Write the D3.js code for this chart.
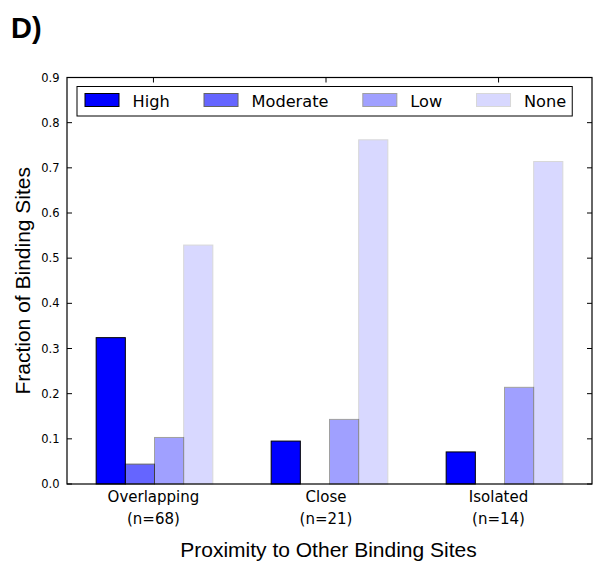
<!DOCTYPE html>
<meta charset="utf-8">
<style>
  body { margin: 0; background: white; }
  .tick-y { font: 11.5px "DejaVu Sans"; fill: #000; }
  .tick-x { font: 15px "DejaVu Sans"; fill: #000; }
  .leg { font: 16.2px "DejaVu Sans"; fill: #000; }
  .label { font: 21px "Liberation Sans", Arial, sans-serif; fill: #000; }
  .panel { font: bold 29px "Liberation Sans", Arial, sans-serif; fill: #000; }
</style>
<body>
</body>
<script src="https://cdn.jsdelivr.net/npm/d3@7"></script>
<script>
  const groups = ['Overlapping', 'Close', 'Isolated'];
  const counts = [68, 21, 14];
  const levels = ['High', 'Moderate', 'Low', 'None'];
  const alphas = [1, 0.6, 0.37, 0.15];
  const high = [0.324, 0.095, 0.071];
  const moderate = [0.044, 0, 0];
  const low = [0.103, 0.143, 0.214];
  const none = [0.529, 0.762, 0.714];
  const series = [high, moderate, low, none];
  const yTicks = [0, 0.1, 0.2, 0.3, 0.4, 0.5, 0.6, 0.7, 0.8, 0.9];
  const xTickPos = [0.494, 1.48, 2.466];

  const W = 597, H = 566;
  const l = 67, r = 592, t = 77.5, b = 484;
  const barW = 1 / 6;

  const svg = d3.select('body').append('svg')
    .attr('width', W).attr('height', H);

  const x = d3.scaleLinear().domain([0, 3]).range([l, r]);
  const y = d3.scaleLinear().domain([0, 0.9]).range([b, t]);

  // bars
  const bars = [];
  series.forEach((vals, j) => vals.forEach((v, i) => {
    if (v > 0) bars.push({i, j, v});
  }));
  svg.append('g').selectAll('rect')
    .data(bars)
    .join('rect')
    .attr('x', d => x(d.i + barW + d.j * barW))
    .attr('width', x(barW) - x(0))
    .attr('y', d => y(d.v))
    .attr('height', d => y(0) - y(d.v))
    .attr('fill', 'blue')
    .attr('stroke', 'black')
    .attr('stroke-width', 1)
    .attr('opacity', d => alphas[d.j]);

  // frame
  svg.append('rect')
    .attr('x', l).attr('y', t)
    .attr('width', r - l).attr('height', b - t)
    .attr('fill', 'none').attr('stroke', 'black').attr('stroke-width', 1.2);

  // y ticks, left and right, pointing in
  const yt = svg.append('g');
  yt.selectAll('line.l').data(yTicks).join('line').attr('class', 'l')
    .attr('x1', l).attr('x2', l + 5)
    .attr('y1', d => y(d)).attr('y2', d => y(d))
    .attr('stroke', 'black');
  yt.selectAll('line.r').data(yTicks).join('line').attr('class', 'r')
    .attr('x1', r).attr('x2', r - 5)
    .attr('y1', d => y(d)).attr('y2', d => y(d))
    .attr('stroke', 'black');
  yt.selectAll('text').data(yTicks).join('text')
    .attr('class', 'tick-y')
    .attr('x', 59.5).attr('y', d => y(d))
    .attr('text-anchor', 'end').attr('dy', '0.36em')
    .text(d => d.toFixed(1));

  // x ticks on top
  svg.append('g').selectAll('line').data(xTickPos).join('line')
    .attr('x1', d => x(d)).attr('x2', d => x(d))
    .attr('y1', t).attr('y2', t + 5)
    .attr('stroke', 'black');

  const xl = svg.append('g').selectAll('text').data(groups).join('text')
    .attr('class', 'tick-x')
    .attr('text-anchor', 'middle');
  xl.append('tspan').attr('x', (d, i) => x(xTickPos[i])).attr('y', 501.5).text(d => d);
  xl.append('tspan').attr('x', (d, i) => x(xTickPos[i])).attr('y', 523.5).text((d, i) => `(n=${counts[i]})`);

  // axis labels
  svg.append('text').attr('class', 'label')
    .attr('x', (l + r) / 2 - 1).attr('y', 557)
    .attr('text-anchor', 'middle')
    .text('Proximity to Other Binding Sites');
  svg.append('text').attr('class', 'label')
    .attr('transform', `translate(30, ${(t + b) / 2}) rotate(-90)`)
    .attr('text-anchor', 'middle')
    .text('Fraction of Binding Sites');

  svg.append('text').attr('class', 'panel')
    .attr('x', 11).attr('y', 38).text('D)');

  // legend
  const leg = svg.append('g');
  const legBox = leg.append('rect')
    .attr('y', 86.5).attr('height', 29.5)
    .attr('fill', 'white').attr('stroke', 'black').attr('stroke-width', 1);
  let cx = 85;
  levels.forEach((name, j) => {
    leg.append('rect')
      .attr('x', cx).attr('y', 93.5).attr('width', 34).attr('height', 13)
      .attr('fill', 'blue').attr('stroke', 'black').attr('opacity', alphas[j]);
    const tx = leg.append('text').attr('class', 'leg')
      .attr('x', cx + 47.5).attr('y', 106.5).text(name);
    cx += 47.5 + tx.node().getComputedTextLength() + (j < levels.length - 1 ? 34.3 : 0);
  });
  legBox.attr('x', 77).attr('width', cx + 6 - 77);
</script>
